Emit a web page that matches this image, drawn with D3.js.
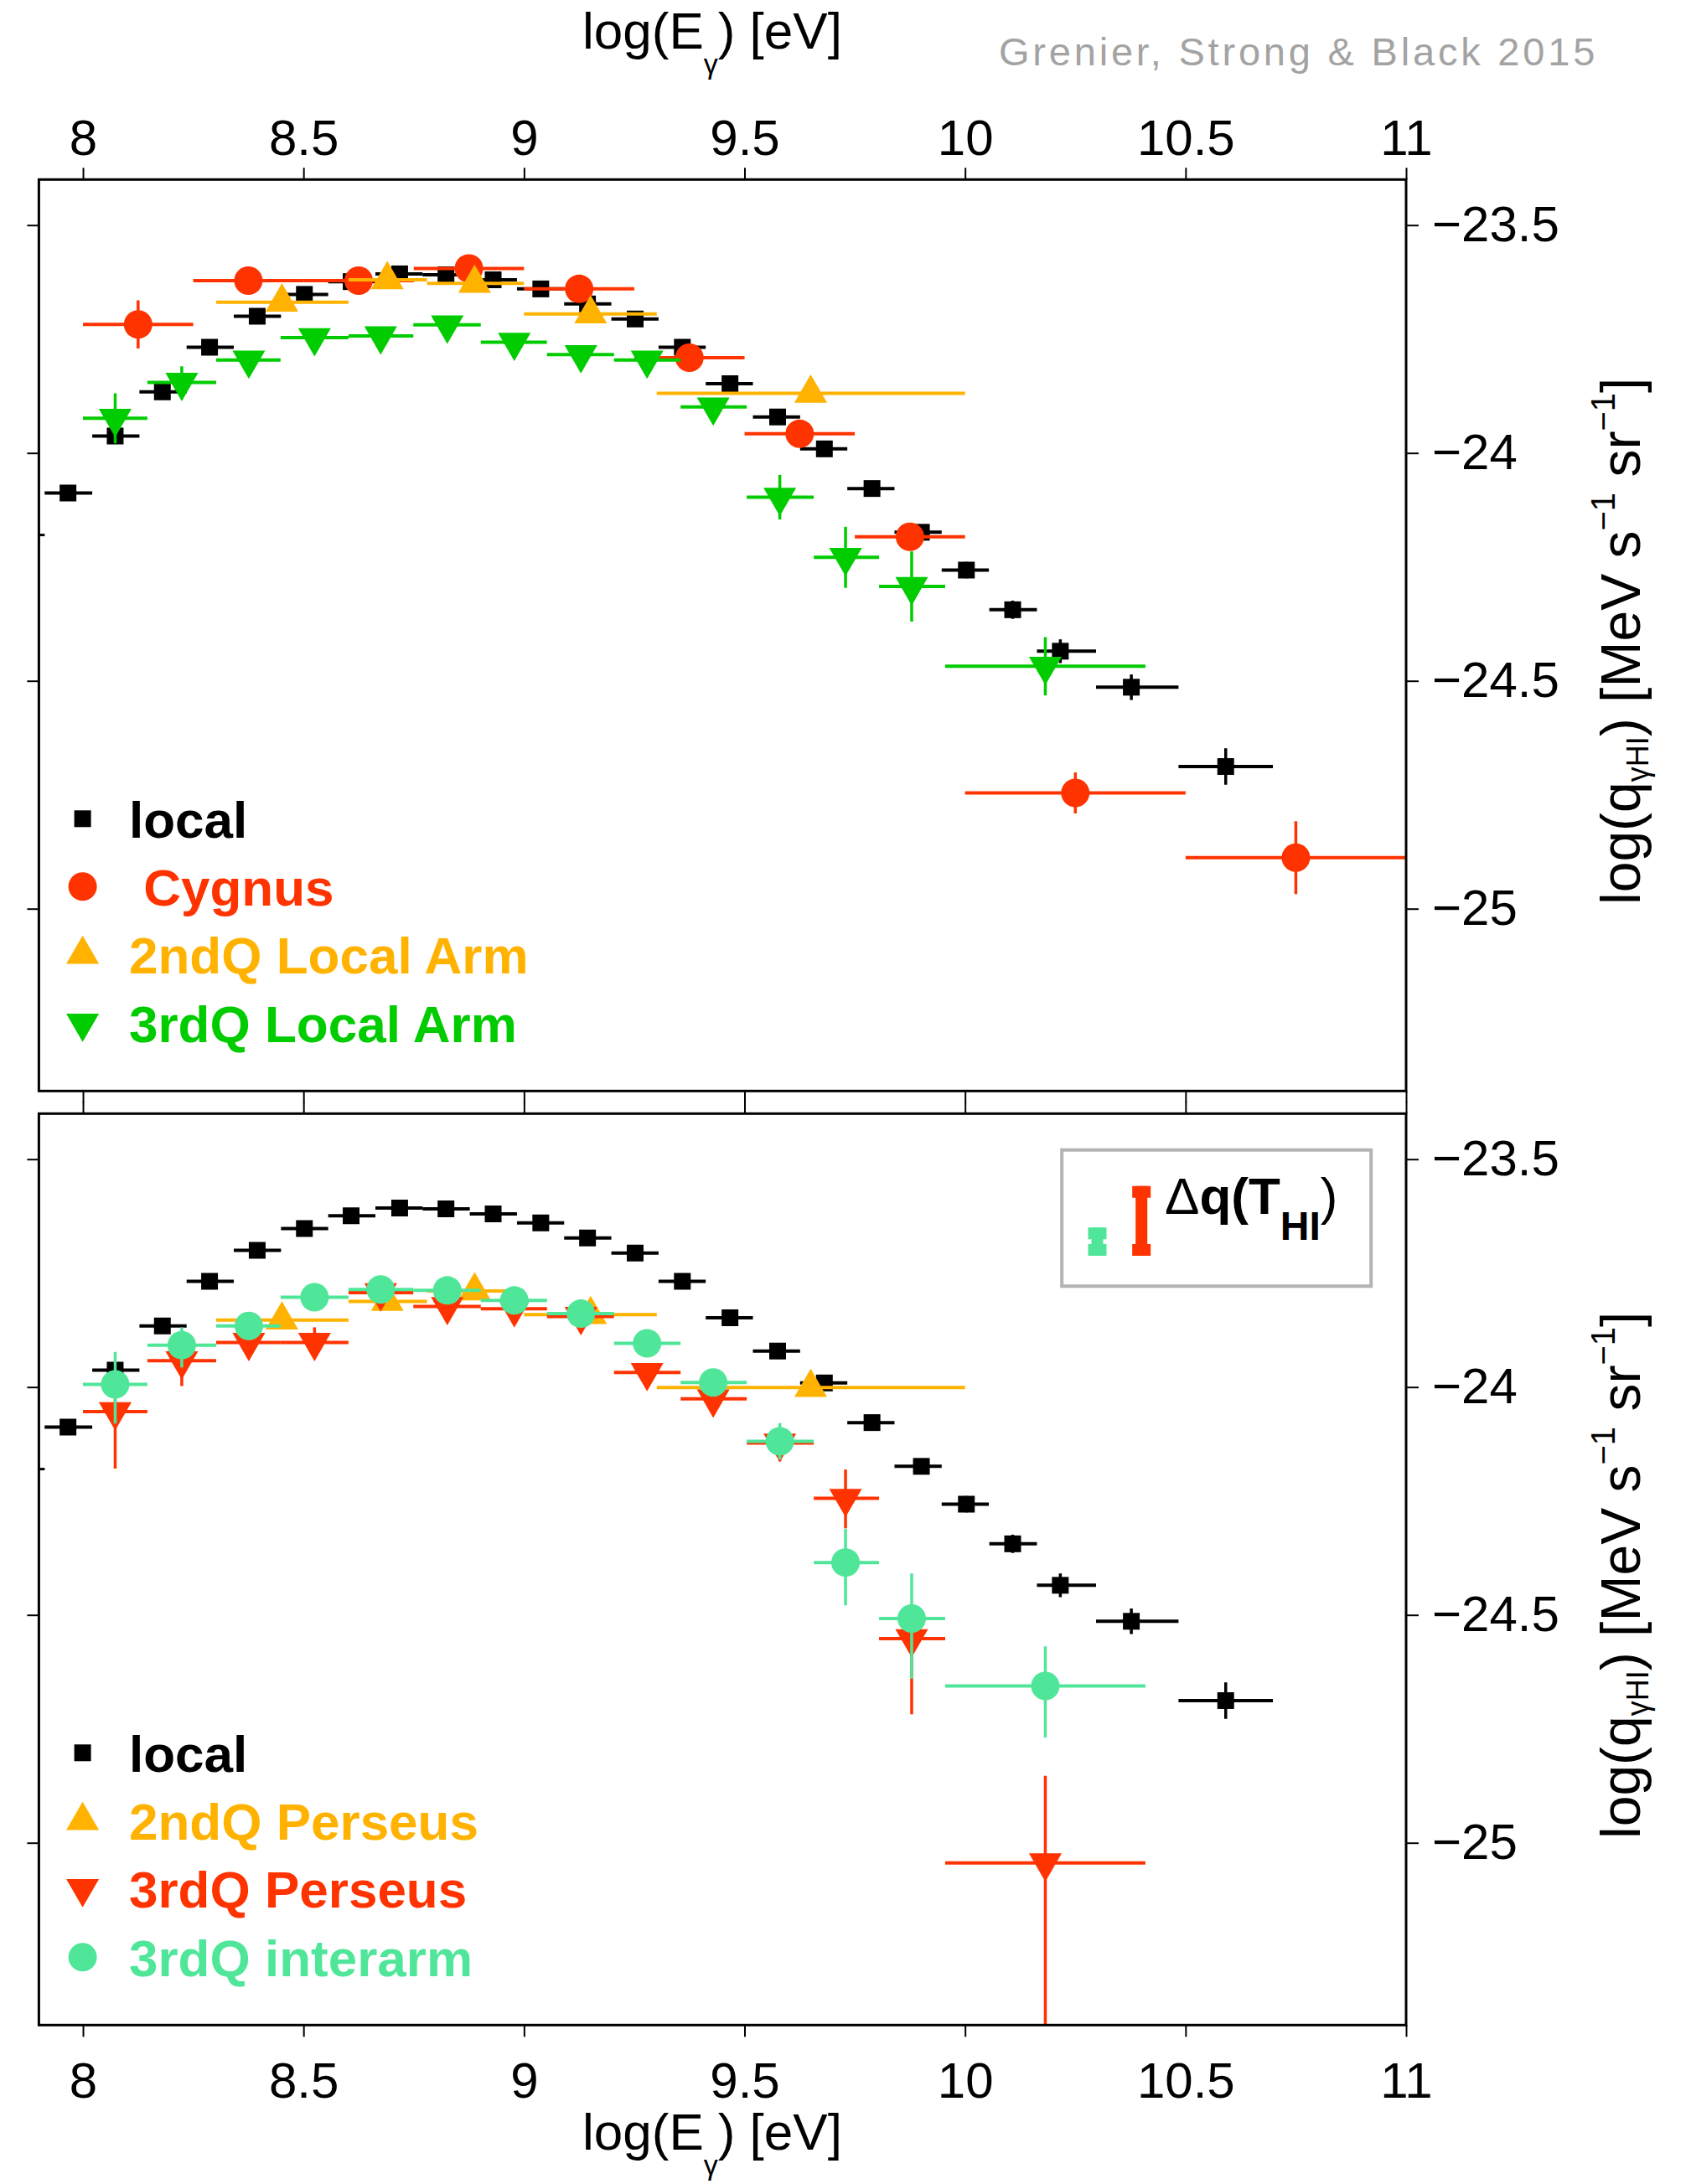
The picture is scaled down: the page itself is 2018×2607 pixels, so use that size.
<!DOCTYPE html>
<html>
<head>
<meta charset="utf-8">
<script src="https://cdn.jsdelivr.net/npm/d3@7"></script>
<style>
  body { margin: 0; background: #fff; }
  svg { display: block; }
  text { font-family: "Liberation Sans", Arial, Helvetica, sans-serif; }
</style>
</head>
<body>
<svg id="chart" width="2018" height="2607"></svg>
<script>
// ---------- axis ticks ----------
const xTicks = [8, 8.5, 9, 9.5, 10, 10.5, 11];
const yTicks = [-23.5, -24, -24.5, -25];
const yMinorMark = -24.18;

// ---------- local (both panels) ----------
const localE  = [7.966, 8.073, 8.180, 8.287, 8.395, 8.502, 8.608, 8.718, 8.823, 8.930, 9.038, 9.144,
                 9.252, 9.359, 9.467, 9.575, 9.681, 9.789, 9.901, 10.003, 10.108, 10.216, 10.377, 10.591];
const localLo = [7.913, 8.021, 8.128, 8.235, 8.342, 8.449, 8.556, 8.663, 8.770, 8.877, 8.984, 9.091,
                 9.198, 9.305, 9.412, 9.519, 9.626, 9.733, 9.840, 9.947, 10.055, 10.163, 10.297, 10.484];
const localHi = [8.021, 8.128, 8.235, 8.342, 8.449, 8.556, 8.663, 8.770, 8.877, 8.984, 9.091, 9.198,
                 9.305, 9.412, 9.519, 9.626, 9.733, 9.840, 9.947, 10.054, 10.163, 10.297, 10.484, 10.698];
const localQ  = [-24.088, -23.963, -23.866, -23.768, -23.700, -23.652, -23.624, -23.607, -23.609, -23.620, -23.640, -23.673,
                 -23.706, -23.768, -23.848, -23.921, -23.991, -24.078, -24.174, -24.257, -24.344, -24.435, -24.514, -24.688];
const localErr = [0.010, 0.017, 0.008, 0.008, 0.008, 0.008, 0.008, 0.008, 0.008, 0.008, 0.008, 0.008,
                  0.008, 0.008, 0.008, 0.008, 0.010, 0.010, 0.012, 0.018, 0.020, 0.026, 0.028, 0.040];

// ---------- Cygnus ----------
const cygE  = [8.125, 8.375, 8.625, 8.875, 9.125, 9.375, 9.625, 9.875, 10.25, 10.75];
const cygLo = [8.0, 8.25, 8.5, 8.75, 9.0, 9.25, 9.5, 9.75, 10.0, 10.5];
const cygHi = [8.25, 8.5, 8.75, 9.0, 9.25, 9.5, 9.75, 10.0, 10.5, 11.0];
const cygQ  = [-23.718, -23.622, -23.622, -23.595, -23.640, -23.791, -23.958, -24.184, -24.746, -24.888];
const cygErr = [0.053, 0.015, 0.015, 0.015, 0.015, 0.018, 0.020, 0.025, 0.045, 0.080];

// ---------- 2nd quadrant bins (Local Arm and Perseus) ----------
const q2E  = [8.451, 8.690, 8.888, 9.151, 9.650];
const q2Lo = [8.302, 8.602, 8.780, 9.000, 9.301];
const q2Hi = [8.602, 8.780, 9.000, 9.301, 10.000];
const arm2Q = [-23.669, -23.620, -23.628, -23.695, -23.869];
const arm2Err = [0.012, 0.012, 0.012, 0.012, 0.012];
const per2Q = [-23.853, -23.812, -23.789, -23.841, -24.001];
const per2Err = [0.012, 0.012, 0.012, 0.012, 0.012];

// ---------- 3rd quadrant bins (Local Arm, Perseus, interarm) ----------
const q3E  = [8.073, 8.224, 8.376, 8.525, 8.675, 8.826, 8.978, 9.129, 9.279, 9.429, 9.580, 9.729, 9.879, 10.182];
const q3Lo = [8.000, 8.146, 8.302, 8.448, 8.602, 8.749, 8.902, 9.052, 9.204, 9.355, 9.505, 9.657, 9.805, 9.955];
const q3Hi = [8.146, 8.302, 8.448, 8.602, 8.749, 8.902, 9.052, 9.204, 9.355, 9.505, 9.657, 9.805, 9.955, 10.409];
const arm3Q = [-23.924, -23.845, -23.796, -23.747, -23.743, -23.719, -23.757, -23.784, -23.796, -23.899, -24.097, -24.229, -24.293, -24.468];
const arm3Err = [0.055, 0.035, 0.015, 0.015, 0.015, 0.015, 0.015, 0.015, 0.015, 0.020, 0.049, 0.067, 0.077, 0.064];
const per3Q = [-24.054, -23.942, -23.902, -23.902, -23.793, -23.823, -23.828, -23.845, -23.968, -24.026, -24.123, -24.244, -24.552, -25.044];
const per3Up = [0.030, 0.040, 0.020, 0.033, 0.015, 0.015, 0.015, 0.015, 0.020, 0.020, 0.035, 0.063, 0.050, 0.191];
const per3Dn = [0.125, 0.056, 0.020, 0.020, 0.015, 0.015, 0.015, 0.015, 0.020, 0.020, 0.040, 0.066, 0.166, 0.500];
const inter3Q = [-23.994, -23.908, -23.866, -23.803, -23.786, -23.788, -23.810, -23.839, -23.904, -23.990, -24.119, -24.385, -24.508, -24.656];
const inter3Up = [0.071, 0.039, 0.015, 0.015, 0.015, 0.015, 0.015, 0.015, 0.015, 0.020, 0.040, 0.074, 0.099, 0.087];
const inter3Dn = [0.086, 0.049, 0.015, 0.015, 0.015, 0.015, 0.015, 0.015, 0.015, 0.020, 0.040, 0.094, 0.132, 0.113];

// ---------- systematic Δq(T_HI) ----------
const dqNames  = ["3rdQ interarm", "3rdQ Perseus"];
const dqValues = [0.062, 0.153];

// ---------- colours ----------
const C = { local: "#000000", red: "#ff3300", orange: "#ffb200", green: "#00cc00", mint: "#50e699" };

// ---------- layout ----------
const W = 2018, H = 2607;
const plotL = 46.4, plotR = 1678;
const panelH = 1088;
const panelTops = [214.3, 1329.3];
const x = d3.scaleLinear().domain([7.9, 11]).range([plotL, plotR]);
const svg = d3.select("#chart").attr("viewBox", `0 0 ${W} ${H}`);
svg.append("rect").attr("width", W).attr("height", H).attr("fill", "#fff");

const symbols = {
  square: d3.symbol(d3.symbolSquare, 400)(),
  circle: d3.symbol(d3.symbolCircle, Math.PI * 17 * 17)(),
  tri:    d3.symbol(d3.symbolTriangle, 660)()
};

function zipSeries(e, lo, hi, q, up, dn) {
  return e.map((v, i) => ({ e: v, lo: lo[i], hi: hi[i], q: q[i], up: up[i], dn: dn[i] }));
}

function drawPanel(idx, top, series, legend) {
  const g = svg.append("g").attr("class", "panel-" + idx);
  const y = d3.scaleLinear().domain([-25.4, -23.4]).range([top + panelH, top]);
  const clipId = "clip-" + idx;
  svg.append("clipPath").attr("id", clipId)
    .append("rect").attr("x", plotL).attr("y", top).attr("width", plotR - plotL).attr("height", panelH);

  const noLabel = () => "";
  const fmt = d3.format("");
  const axes = [
    { ax: d3.axisTop(x).tickValues(xTicks).tickSize(14).tickPadding(15).tickFormat(idx === 0 ? fmt : noLabel), tr: `translate(0,${top})` },
    { ax: d3.axisBottom(x).tickValues(xTicks).tickSize(14).tickPadding(30).tickFormat(idx === 1 ? fmt : noLabel), tr: `translate(0,${top + panelH})` },
    { ax: d3.axisLeft(y).tickValues(yTicks).tickSize(14).tickFormat(noLabel), tr: `translate(${plotL},0)` },
    { ax: d3.axisRight(y).tickValues(yTicks).tickSize(15).tickPadding(16).tickFormat(fmt), tr: `translate(${plotR},0)` }
  ];
  axes.forEach(a => {
    const ag = g.append("g").attr("transform", a.tr).call(a.ax);
    ag.select(".domain").remove();
    ag.selectAll(".tick line").attr("stroke", "#000").attr("stroke-width", 2);
    ag.selectAll(".tick text").attr("font-size", 60).attr("fill", "#000")
      .attr("font-family", '"Liberation Sans", Arial, sans-serif');
  });
  // small inner mark on the left edge
  g.append("line").attr("x1", plotL).attr("x2", plotL + 7)
    .attr("y1", y(yMinorMark)).attr("y2", y(yMinorMark))
    .attr("stroke", "#000").attr("stroke-width", 3);

  // data
  const dg = g.append("g").attr("clip-path", `url(#${clipId})`);
  series.forEach(s => {
    const sg = dg.append("g");
    sg.selectAll("line.xerr").data(s.data).join("line").attr("class", "xerr")
      .attr("x1", d => x(d.lo)).attr("x2", d => x(d.hi))
      .attr("y1", d => y(d.q)).attr("y2", d => y(d.q))
      .attr("stroke", s.color).attr("stroke-width", 4);
    sg.selectAll("line.yerr").data(s.data).join("line").attr("class", "yerr")
      .attr("x1", d => x(d.e)).attr("x2", d => x(d.e))
      .attr("y1", d => y(d.q + d.up)).attr("y2", d => y(d.q - d.dn))
      .attr("stroke", s.color).attr("stroke-width", 3.5);
    sg.selectAll("path.mark").data(s.data).join("path").attr("class", "mark")
      .attr("d", symbols[s.shape])
      .attr("transform", d => `translate(${x(d.e)},${y(d.q)})${s.flip ? " rotate(180)" : ""}`)
      .attr("fill", s.color);
  });

  // frame
  g.append("rect").attr("x", plotL).attr("y", top).attr("width", plotR - plotL).attr("height", panelH)
    .attr("fill", "none").attr("stroke", "#000").attr("stroke-width", 3);

  // legend
  const rowOff = [786, 867, 948, 1030];
  const lg = g.append("g");
  legend.forEach((s, i) => {
    const base = top + rowOff[i];
    lg.append("path").attr("d", symbols[s.shape])
      .attr("transform", `translate(98.6,${base - 23})${s.flip ? " rotate(180)" : ""}`)
      .attr("fill", s.color);
    lg.append("text").attr("x", 154).attr("y", base)
      .attr("font-size", 62).attr("font-weight", "bold").attr("fill", s.color)
      .style("white-space", "pre").text(s.name);
  });

  // right-hand axis title
  const t = g.append("text")
    .attr("transform", `translate(1957,${top + 551}) rotate(-90)`)
    .attr("text-anchor", "middle").attr("font-size", 66).attr("fill", "#000");
  t.append("tspan").text("log(q");
  t.append("tspan").attr("font-size", 36).attr("dy", 10).text("γHI");
  t.append("tspan").attr("dy", -10).text(") [MeV s");
  t.append("tspan").attr("font-size", 40).attr("dy", -30).text("−1");
  t.append("tspan").attr("dy", 30).text(" sr");
  t.append("tspan").attr("font-size", 40).attr("dy", -30).text("−1");
  t.append("tspan").attr("dy", 30).text("]");

  return { g, y };
}

// ---------- top panel ----------
const topSeries = [
  { name: "local", color: C.local, shape: "square", data: zipSeries(localE, localLo, localHi, localQ, localErr, localErr) },
  { name: " Cygnus", color: C.red, shape: "circle", data: zipSeries(cygE, cygLo, cygHi, cygQ, cygErr, cygErr) },
  { name: "2ndQ Local Arm", color: C.orange, shape: "tri", data: zipSeries(q2E, q2Lo, q2Hi, arm2Q, arm2Err, arm2Err) },
  { name: "3rdQ Local Arm", color: C.green, shape: "tri", flip: true, data: zipSeries(q3E, q3Lo, q3Hi, arm3Q, arm3Err, arm3Err) }
];
drawPanel(0, panelTops[0], topSeries, topSeries);

// ---------- bottom panel ----------
const botSeries = [
  { name: "local", color: C.local, shape: "square", data: zipSeries(localE, localLo, localHi, localQ, localErr, localErr) },
  { name: "2ndQ Perseus", color: C.orange, shape: "tri", data: zipSeries(q2E, q2Lo, q2Hi, per2Q, per2Err, per2Err) },
  { name: "3rdQ Perseus", color: C.red, shape: "tri", flip: true, data: zipSeries(q3E, q3Lo, q3Hi, per3Q, per3Up, per3Dn) },
  { name: "3rdQ interarm", color: C.mint, shape: "circle", data: zipSeries(q3E, q3Lo, q3Hi, inter3Q, inter3Up, inter3Dn) }
];
const bottom = drawPanel(1, panelTops[1], botSeries, botSeries);

// ---------- Δq(T_HI) box ----------
const bg = bottom.g.append("g");
bg.append("rect").attr("x", 1267.2).attr("y", 1372.7).attr("width", 369).attr("height", 162.6)
  .attr("fill", "#fff").attr("stroke", "#b3b3b3").attr("stroke-width", 4);
const dqColors = [C.mint, C.red];
const dqX = [1309.5, 1362.2];
const barBase = 1499;
dqValues.forEach((v, i) => {
  const hPx = bottom.y(-24) - bottom.y(-24 + v);
  const topY = barBase - hPx;
  const cx = dqX[i];
  const capH = Math.min(14, hPx / 2.4);
  bg.append("rect").attr("x", cx - 7).attr("y", topY).attr("width", 14).attr("height", hPx).attr("fill", dqColors[i]);
  bg.append("rect").attr("x", cx - 11).attr("y", topY).attr("width", 22).attr("height", capH).attr("fill", dqColors[i]);
  bg.append("rect").attr("x", cx - 11).attr("y", barBase - capH).attr("width", 22).attr("height", capH).attr("fill", dqColors[i]);
});
const dt = bg.append("text").attr("x", 1390).attr("y", 1449).attr("font-size", 62).attr("fill", "#000");
dt.append("tspan").text("Δ");
dt.append("tspan").attr("font-weight", "bold").text("q(T");
dt.append("tspan").attr("font-weight", "bold").attr("font-size", 48).attr("dy", 31).text("HI");
dt.append("tspan").attr("dy", -31).text(")");

// ---------- energy axis titles ----------
function energyTitle(xPos, yPos) {
  const t = svg.append("text").attr("x", xPos).attr("y", yPos).attr("font-size", 62).attr("fill", "#000");
  t.append("tspan").text("log(E");
  t.append("tspan").attr("font-size", 34).attr("dy", 30).text("γ");
  t.append("tspan").attr("dy", -30).text(") [eV]");
}
energyTitle(695, 58);
energyTitle(695, 2566);

// ---------- credit ----------
svg.append("text").attr("x", 1192).attr("y", 78)
  .attr("font-family", '"Open Sans", "Noto Sans", sans-serif').attr("font-size", 47)
  .attr("font-weight", 300).attr("letter-spacing", 3.8)
  .attr("fill", "#a3a3a3").text("Grenier, Strong & Black 2015");
</script>
</body>
</html>
